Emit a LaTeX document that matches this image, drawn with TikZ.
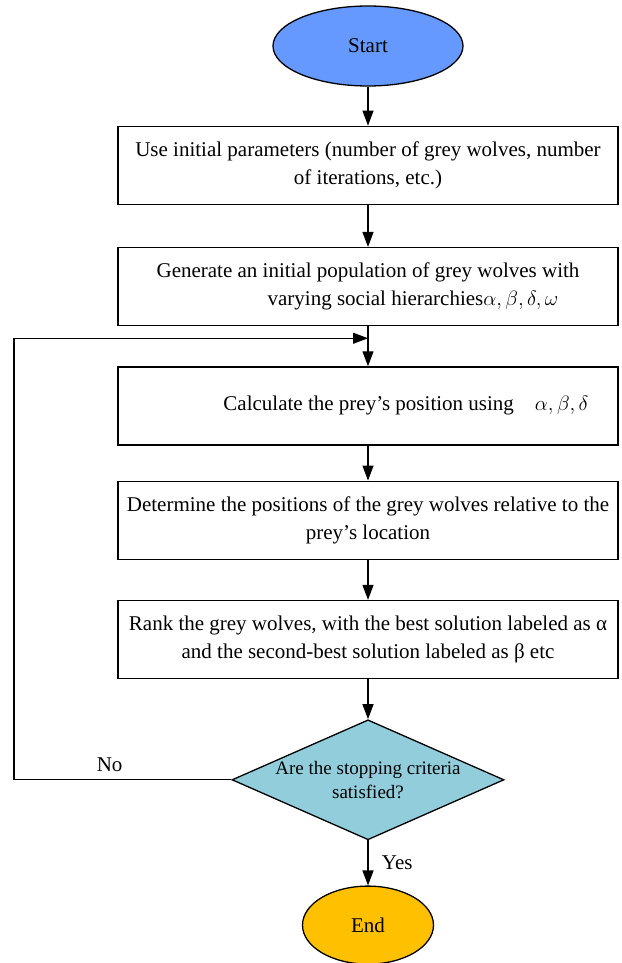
\documentclass[tikz,border=0pt]{standalone}
\usepackage{fontspec}
\setmainfont{Liberation Serif}
\usetikzlibrary{positioning,arrows.meta,calc,shapes.geometric}
\definecolor{startblue}{HTML}{6699FF}
\definecolor{checkcyan}{HTML}{92CDDC}
\definecolor{endgold}{HTML}{FFC000}
\tikzset{
  blk/.style={draw, line width=1.3pt, align=center,
              minimum width=500pt, minimum height=78pt, inner sep=3pt},
  term/.style={ellipse, draw, line width=1.3pt, inner sep=0pt},
  cond/.style={diamond, draw, line width=1.3pt, fill=checkcyan, aspect=2.27,
               font=\fontsize{19}{24}\selectfont,
               inner sep=0pt, align=center, minimum width=272pt, minimum height=120pt},
  flow/.style={-{Triangle[length=15pt,width=11pt]}, line width=1.2pt},
}

\begin{document}
\begin{tikzpicture}[x=1pt, y=1pt, font=\fontsize{21}{28}\selectfont, node distance=40pt]
        \useasboundingbox (0,0) rectangle (621,-963);
        \node[term, fill=startblue, minimum width=190pt, minimum height=80pt] (st) at (368,-46) {Start};
        \node[blk, below=39pt of st] (ip) {Use initial parameters (number of grey wolves, number\\of iterations, etc.)};
        \node[blk, below=42pt of ip] (gp) {Generate an initial population of grey wolves with\\\hspace*{90pt}varying social hierarchies$\alpha,\beta,\delta,\omega$};
        \node[blk, below=of gp] (cp) {\hspace*{76pt}Calculate the prey's position using\quad$\alpha,\beta,\delta$};
        \node[blk, below=35pt of cp] (dp) {Determine the positions of the grey wolves relative to the\\prey's location};
        \node[blk, below=of dp] (rk) {Rank the grey wolves, with the best solution labeled as α\\and the second-best solution labeled as β etc};
        \node[cond, below=of rk] (chk) {Are the stopping criteria\\satisfied?};
        \node[term, fill=endgold, minimum width=131pt, minimum height=78pt, below=45pt of chk] (en) {End};
        \coordinate (join) at ($(gp.south)!0.3!(cp.north)$);
        \coordinate (lft) at (14,0);
        \draw[flow] (st) -- (ip);
        \draw[flow] (ip) -- (gp);
        \draw[flow] (gp) -- (cp);
        \draw[flow] (cp) -- (dp);
        \draw[flow] (dp) -- (rk);
        \draw[flow] (rk) -- (chk);
        \draw[flow] (chk) -- node[right=10pt] {Yes} (en);
        \draw[flow] (chk.west) -- node[above=4pt, pos=0.56] {No} (chk.west -| lft) |- (join);
      \end{tikzpicture}
\end{document}
